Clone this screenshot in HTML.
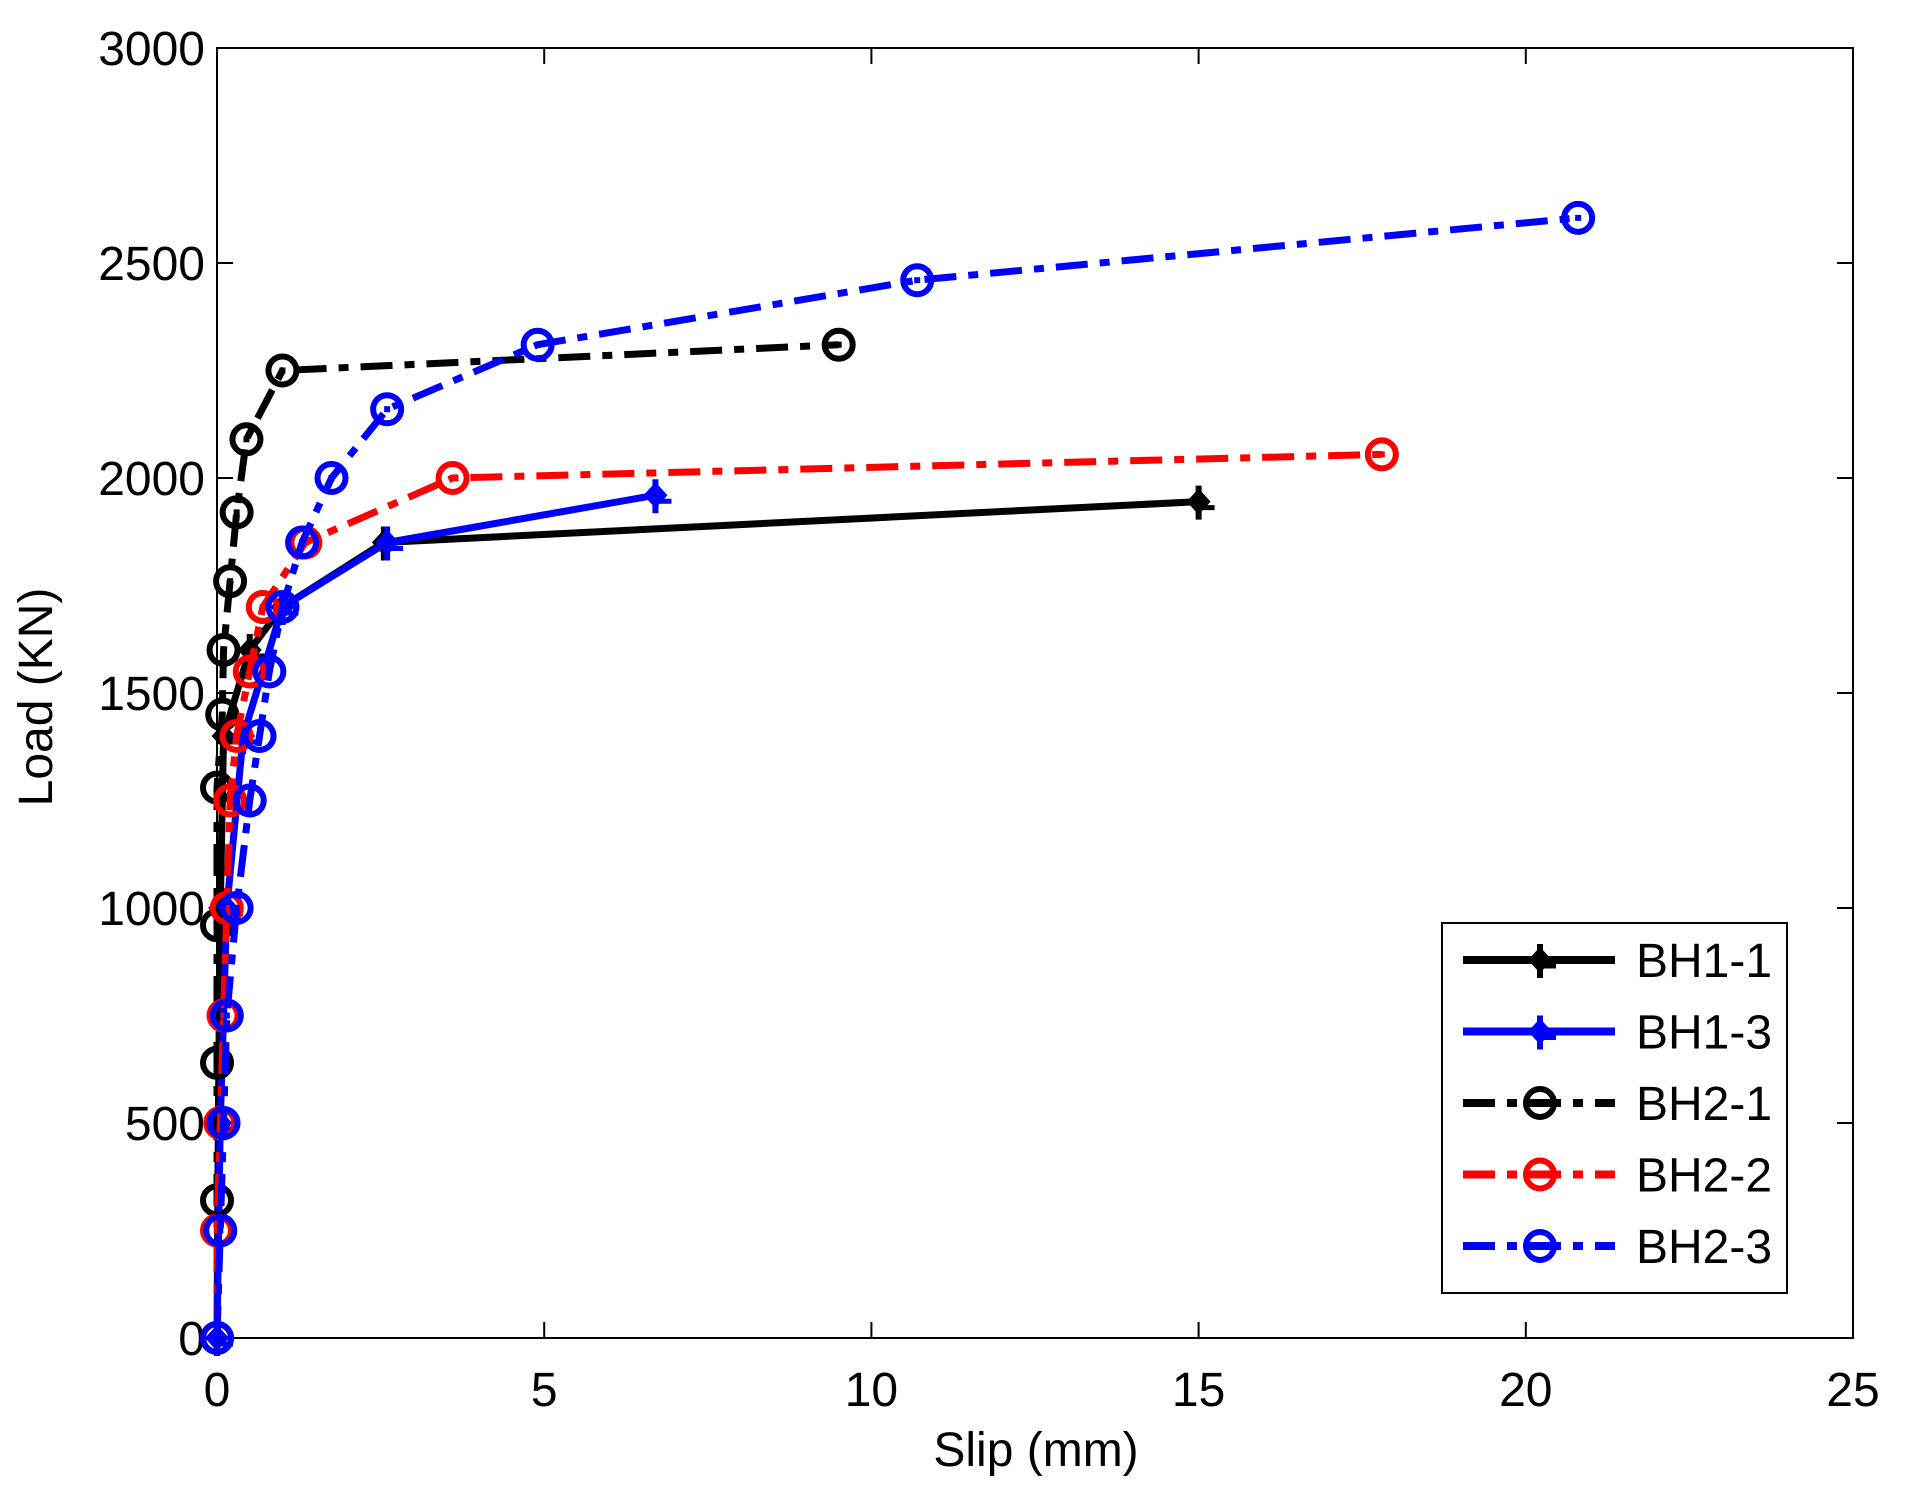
<!DOCTYPE html>
<html><head><meta charset="utf-8"><style>
html,body{margin:0;padding:0;background:#fff;}
svg{display:block;font-family:"Liberation Sans",Arial,sans-serif;}
</style></head><body>
<svg id="s" width="1906" height="1490" viewBox="0 0 1906 1490" xmlns="http://www.w3.org/2000/svg">
<rect width="1906" height="1490" fill="#fff"/>
<g id="axes" stroke="#000" stroke-width="2" fill="none">
<rect x="217" y="48" width="1636" height="1290"/>
</g>
<g id="ticks" stroke="#000" stroke-width="2"></g>
<g id="lbl" font-size="48" fill="#000"></g>
<g id="data"></g>
<text x="1036" y="1466" font-size="48" text-anchor="middle">Slip (mm)</text>
<text transform="translate(52,697) rotate(-90)" font-size="48" text-anchor="middle">Load (KN)</text>
<rect x="1442" y="923" width="345" height="370" fill="#fff" stroke="#000" stroke-width="2"/>
<g id="leg"></g>
</svg>
<script>
var NS="http://www.w3.org/2000/svg";
function X(v){return 217+v*65.44;}function Y(v){return 1338-v*0.43;}
function el(p,t,a){var e=document.createElementNS(NS,t);for(var k in a)e.setAttribute(k,a[k]);p.appendChild(e);return e;}
var T=document.getElementById('ticks'),L=document.getElementById('lbl');
for(var i=0;i<=5;i++){var x=X(i*5);
el(T,'line',{x1:x,y1:1338,x2:x,y2:1322});el(T,'line',{x1:x,y1:48,x2:x,y2:64});
var t=el(L,'text',{x:x,y:1406,'text-anchor':'middle'});t.textContent=i*5;}
for(var i=0;i<=6;i++){var y=Y(i*500);
el(T,'line',{x1:217,y1:y,x2:233,y2:y});el(T,'line',{x1:1853,y1:y,x2:1837,y2:y});
var t=el(L,'text',{x:205,y:y+17,'text-anchor':'end'});t.textContent=i*500;}
var D=document.getElementById('data');
var dd="32 12 10 12";
var S=[
{c:"#000",d:null,m:"p",n:"BH1-1",pts:[[0,0],[0.02,500],[0.05,1000],[0.1,1400],[0.5,1600],[1,1700],[2.55,1850],[15,1945]]},
{c:"#00f",d:null,m:"p",n:"BH1-3",pts:[[0,0],[0.05,500],[0.15,1000],[0.4,1400],[1,1700],[2.6,1850],[6.7,1960]]},
{c:"#000",d:dd,m:"o",n:"BH2-1",pts:[[0,0],[0,320],[0,640],[0,960],[0,1280],[0.08,1450],[0.1,1600],[0.2,1760],[0.3,1920],[0.45,2090],[1,2250],[9.5,2310]]},
{c:"#f00",d:dd,m:"o",n:"BH2-2",pts:[[0,0],[0,250],[0.05,500],[0.1,750],[0.15,1000],[0.2,1250],[0.3,1400],[0.5,1550],[0.7,1700],[1.35,1850],[3.6,2000],[17.8,2055]]},
{c:"#00f",d:dd,m:"o",n:"BH2-3",pts:[[0,0],[0.05,250],[0.1,500],[0.15,750],[0.3,1000],[0.5,1250],[0.65,1400],[0.8,1550],[1,1700],[1.3,1850],[1.75,2000],[2.6,2160],[4.9,2310],[10.7,2460],[20.8,2605]]}];
function mark(g,s,x,y){
 if(s.m=="o"){el(g,'circle',{cx:x,cy:y,r:14,fill:'none',stroke:s.c,'stroke-width':6});el(g,'rect',{x:x-3,y:y-3,width:6,height:6,fill:s.c});}
 else{el(g,'path',{d:"M"+(x-12)+","+y+"L"+x+","+(y-13)+"L"+(x+12)+","+y+"L"+x+","+(y+13)+"Z",fill:s.c});
 el(g,'line',{x1:x,y1:y-16,x2:x,y2:y+18,stroke:s.c,'stroke-width':6});el(g,'line',{x1:x,y1:y+6,x2:x+16,y2:y+6,stroke:s.c,'stroke-width':5});}
}
S.forEach(function(s){
 var p=s.pts.map(function(q){return X(q[0])+","+Y(q[1]);}).join(" ");
 var a={points:p,fill:'none',stroke:s.c,'stroke-width':7,'stroke-linejoin':'round'};if(s.d)a['stroke-dasharray']=s.d;
 el(D,'polyline',a);
 s.pts.forEach(function(q){mark(D,s,X(q[0]),Y(q[1]));});
});
var G=document.getElementById('leg');
S.forEach(function(s,i){var y=960+i*71.5;
 var a={x1:1463,y1:y,x2:1615,y2:y,stroke:s.c,'stroke-width':8};if(s.d)a['stroke-dasharray']=dd;
 el(G,'line',a);mark(G,s,1540,y);
 var t=el(G,'text',{x:1636,y:y+17,'font-size':48});t.textContent=s.n;});
</script>
</body></html>
